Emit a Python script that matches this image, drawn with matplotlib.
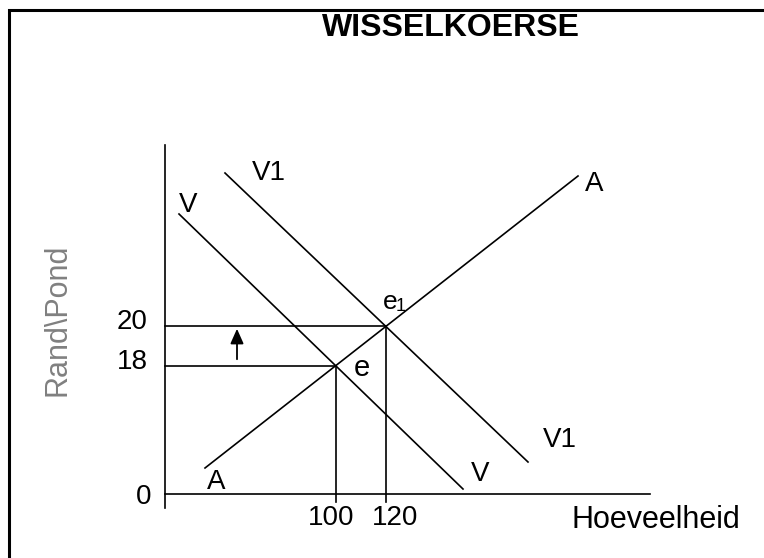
import matplotlib
matplotlib.use("Agg")
import matplotlib.pyplot as plt
import numpy as np

plt.rcParams['font.family'] = ['Liberation Sans', 'DejaVu Sans']

# schematic diagram units: origin at the corner of the axes, x = quantity, y = rand/pond
supply_A_x = [40, 413]
supply_A_y = [26, 318]
demand_V_x = [14, 298]
demand_V_y = [280, 5]
demand_V1_x = [60, 363]
demand_V1_y = [321, 32]

price_labels = ["18", "20"]
qty_labels = ["100", "120"]
curve_labels = [("A", 51, 12), ("A", 429, 310), ("V", 23, 289), ("V", 315, 20),
                ("V1", 104, 321), ("V1", 395, 54)]


def intersect(x1, y1, x2, y2):
    m1 = (y1[1] - y1[0]) / (x1[1] - x1[0])
    m2 = (y2[1] - y2[0]) / (x2[1] - x2[0])
    x = (y2[0] - y1[0] + m1 * x1[0] - m2 * x2[0]) / (m1 - m2)
    return x, y1[0] + m1 * (x - x1[0])


e = intersect(supply_A_x, supply_A_y, demand_V_x, demand_V_y)
e1 = intersect(supply_A_x, supply_A_y, demand_V1_x, demand_V1_y)

fig = plt.figure(figsize=(7.64, 5.58), dpi=100)
ax = fig.add_axes([0, 0, 1, 1])
ax.set_xlim(-165, 599)
ax.set_ylim(-64, 494)
ax.axis('off')

lw = 1.2
# axes of the diagram
ax.plot([0, 0], [-14, 349], c='black', lw=lw)
ax.plot([0, 485], [0, 0], c='black', lw=lw)

# curves
ax.plot(supply_A_x, supply_A_y, c='black', lw=lw)
ax.plot(demand_V_x, demand_V_y, c='black', lw=lw)
ax.plot(demand_V1_x, demand_V1_y, c='black', lw=lw)

# guide lines to the equilibria
for p in [e, e1]:
    ax.plot([0, p[0]], [p[1], p[1]], c='black', lw=lw)
    ax.plot([p[0], p[0]], [p[1], -8], c='black', lw=lw)

fs = 20
for i, p in enumerate([e, e1]):
    ax.text(-33, p[1] + 4, price_labels[i], fontsize=fs, ha='center', va='center')
ax.text(e[0] - 5, -24, qty_labels[0], fontsize=fs, ha='center', va='center')
ax.text(e1[0] + 9, -24, qty_labels[1], fontsize=fs, ha='center', va='center')
ax.text(-21, -3, "0", fontsize=fs, ha='center', va='center')

for t, x, y in curve_labels:
    ax.text(x, y, t, fontsize=fs, ha='center', va='center')

ax.text(e[0] + 26, e[1] - 2, "e", fontsize=21, ha='center', va='center')
ax.text(e1[0] + 4, e1[1] + 24, "e", fontsize=19, ha='center', va='center')
ax.text(e1[0] + 15, e1[1] + 20, "1", fontsize=13, ha='center', va='center')

# upward shift arrow
ax.annotate("", xy=(72, 168), xytext=(72, 132),
            arrowprops=dict(arrowstyle="-|>,head_width=0.4,head_length=0.9", color='black', lw=1.3))

ax.text(491, -26, "Hoeveelheid", fontsize=22, ha='center', va='center')
ax.text(-108, 174, "Rand\\Pond", fontsize=22, color='#808080', rotation=90, ha='center', va='center')
ax.text(286, 466, "WISSELKOERSE", fontsize=23, fontweight='bold', ha='center', va='center')

# frame of the picture (only top and left edges visible)
ax.plot([-156.5, -156.5, 599], [-64, 484.5, 484.5], c='black', lw=2.2, solid_joinstyle='miter')

fig.savefig("out.png", dpi=100)
